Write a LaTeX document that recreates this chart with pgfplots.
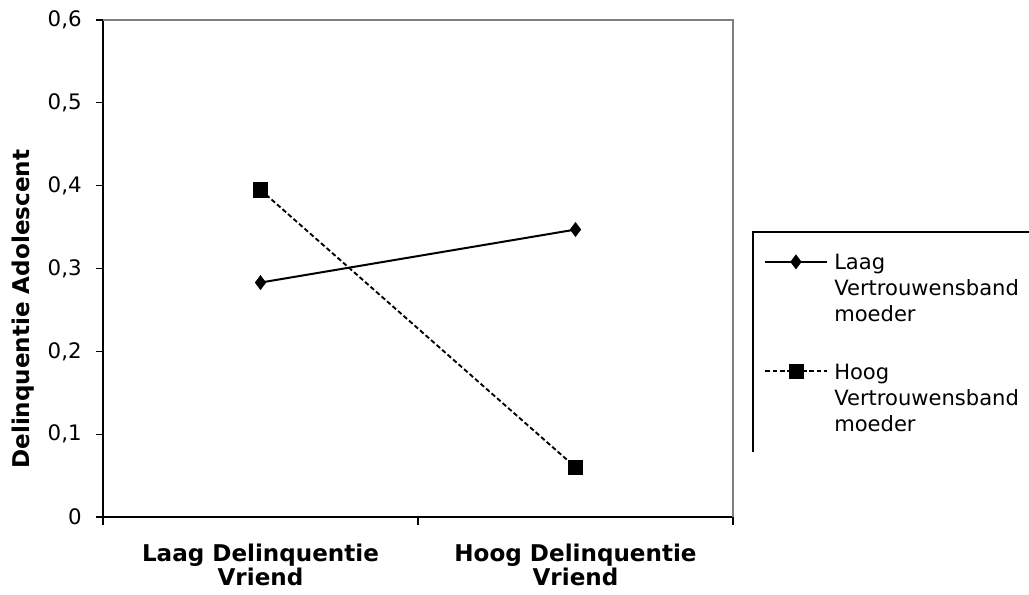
\documentclass[border=0pt]{standalone}
\usepackage{fontspec}
\setmainfont{DejaVu Sans}
\usepackage{pgfplots}
\pgfplotsset{compat=1.18}
\begin{document}
\begin{tikzpicture}
\begin{axis}[
    width=472.5pt, height=372.75pt, scale only axis,
    xmin=0.5, xmax=2.5, ymin=0, ymax=0.6,
    clip=false,
    axis x line*=bottom, axis y line*=left,
    axis line style={-, black, line width=0.9pt},
    xtick={1,2},
    xticklabels={{Laag Delinquentie\\Vriend},{Hoog Delinquentie\\Vriend}},
    minor xtick={0.5,1.5,2.5},
    major x tick style={draw=none},
    minor x tick style={black, line width=0.8pt},
    ytick={0,0.1,0.2,0.3,0.4,0.5,0.6},
    y tick style={black, line width=0.8pt},
    tick align=outside,
    major tick length=5pt,
    minor tick length=6pt,
    xticklabel style={align=center, yshift=-12pt, font=\fontsize{17.3}{17.5}\selectfont\bfseries},
    yticklabel style={xshift=-7.5pt, font=\fontsize{16}{18}\selectfont},
    /pgf/number format/.cd, use comma, fixed, precision=1, assume math mode=true,
    /pgfplots/.cd,
    ylabel={Delinquentie Adolescent},
    every axis y label/.style={at={(axis description cs:-0.127,0.418)}, rotate=90, anchor=center,
        font=\fontsize{17.3}{20}\selectfont\bfseries},
    legend image code/.code={\draw[mark repeat=2,mark phase=2,#1] plot coordinates {(0pt,0pt) (23pt,0pt) (46pt,0pt)};},
    legend style={at={(rel axis cs:1.0365,0.561)}, anchor=north west, draw=none, fill=none,
        inner xsep=6pt, inner ysep=8pt, row sep=63pt, cells={anchor=west},
        font=\fontsize{15.8}{19.5}\selectfont},
]
\addplot[black, line width=1.5pt, mark=diamond*, mark size=5.2pt, mark options={solid, line width=0.5pt}]
    coordinates {(1,0.283) (2,0.347)};
\addlegendentry{\begin{tabular}[t]{@{\hspace{3pt}}l@{}}Laag\\Vertrouwensband\\moeder\end{tabular}}
\addplot[black, line width=1.4pt, dash pattern=on 3.5pt off 2pt, mark=square*, mark size=5.3pt, mark options={solid, line width=0.5pt}]
    coordinates {(1,0.395) (2,0.060)};
\addlegendentry{\begin{tabular}[t]{@{\hspace{3pt}}l@{}}Hoog\\Vertrouwensband\\moeder\end{tabular}}
% grey frame on top and right
\draw[gray, line width=1.5pt] (rel axis cs:0,1) -- (rel axis cs:1,1) -- (rel axis cs:1,0);
% legend frame, cut off at the right
\draw[black, line width=0.9pt] (rel axis cs:1.0317,0.1308) -- (rel axis cs:1.0317,0.5734) -- (rel axis cs:1.6,0.5734);
\end{axis}
\pgfresetboundingbox
\useasboundingbox (-77.25pt,-58.5pt) rectangle (694.5pt,387.75pt);
\end{tikzpicture}
\end{document}
